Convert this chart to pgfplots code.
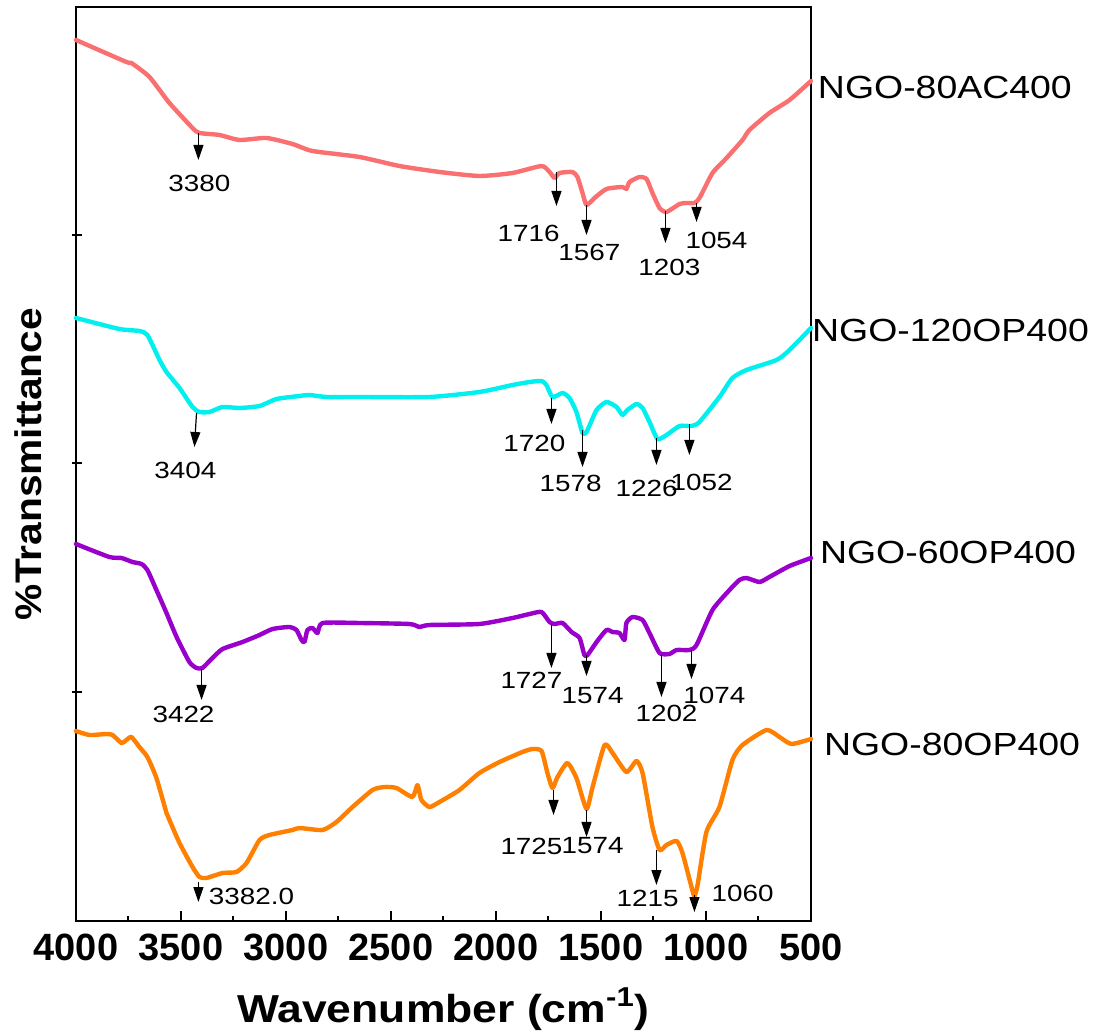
\documentclass[border=0pt]{standalone}
\usepackage{pgfplots}
\pgfplotsset{compat=1.18}
\usepackage{fontspec}
\setmainfont{Liberation Sans}
\usetikzlibrary{arrows.meta}
\definecolor{cRed}{RGB}{250,112,112}
\definecolor{cCyan}{RGB}{0,240,240}
\definecolor{cPurple}{RGB}{153,0,204}
\definecolor{cOrange}{RGB}{255,128,0}
\tikzset{
  pk/.style={black, line width=0.6pt, -{Triangle[length=7.5pt,width=5pt]}},
  ann/.style={font=\fontsize{11.7}{13}\selectfont, xscale=1.19, inner sep=0pt, anchor=center},
  nm/.style={font=\fontsize{16}{18}\selectfont, xscale=1.17, inner sep=0pt, anchor=west},
}
% arrow marking a peak: wavenumber, start value, end value
\newcommand{\pk}[3]{\draw[pk] (axis cs:#1,#2) -- (axis cs:#1,#3);}
\newcommand{\lb}[3]{\node[ann] at (axis cs:#1,#2) {#3};}
\newcommand{\nm}[3]{\node[nm] at (axis cs:#1,#2) {#3};}

\begin{document}
\begin{tikzpicture}
\useasboundingbox (-38pt,-55.5pt) rectangle (510pt,460.5pt);
\begin{axis}[
  at={(0,0)}, anchor=south west,
  scale only axis, width=367.5pt, height=457pt,
  xmin=500, xmax=4000, x dir=reverse,
  ymin=0, ymax=914,
  clip=false,
  axis line style={line width=1pt},
  every tick/.style={black, line width=1pt},
  tick align=inside,
  major tick length=5pt, minor tick length=2.5pt,
  xtick={500,1000,...,4000},
  xticklabels={500,1000,1500,2000,2500,3000,3500,4000},
  minor x tick num=1,
  xtick pos=bottom,
  ytick={229,458,686}, yticklabels={}, ytick pos=left,
  ytick style={xshift=-2pt},
  xticklabel style={font=\fontsize{19}{21}\selectfont\bfseries, anchor=base, yshift=-19.5pt, inner sep=0pt},
  every axis plot/.append style={line width=2.2pt, line join=round, line cap=round, smooth, tension=0.35},
]
% NGO-80AC400
\addplot[cRed] coordinates {
(4000,881) (3760,859) (3736,858) (3650,844) (3555,818) (3445,793) (3412,788)
(3317,786) (3221,781) (3093,783) (2969,777) (2874,770) (2650,764) (2460,755)
(2269,749) (2079,745) (1921,748) (1783,755) (1745,749) (1721,743) (1698,748)
(1636,749) (1612,744) (1588,728) (1569,716) (1531,723) (1474,732) (1398,734)
(1379,732) (1364,739) (1317,744) (1283,742) (1255,728) (1221,713) (1188,709)
(1126,717) (1093,718) (1055,718) (1031,723) (969,748) (902,763) (826,781)
(793,791) (698,808) (602,821) (500,840)};
% NGO-120OP400
\addplot[cCyan] coordinates {
(4000,603) (3793,592) (3698,590) (3660,586) (3602,561) (3569,549) (3507,533)
(3445,514) (3412,509) (3364,509) (3302,514) (3221,513) (3126,515) (3045,522)
(2936,525) (2888,526) (2807,524) (2650,524) (2317,524) (2079,529) (1921,536)
(1840,539) (1783,540) (1760,536) (1731,524) (1683,528) (1650,523) (1617,509)
(1588,488) (1569,489) (1521,511) (1474,519) (1426,514) (1398,506) (1374,511)
(1331,517) (1302,513) (1269,499) (1231,482) (1188,486) (1126,495) (1069,495)
(1031,499) (936,524) (874,543) (807,551) (664,561) (602,571) (500,593)};
% NGO-60OP400
\addplot[cPurple] coordinates {
(4000,377) (3841,364) (3783,363) (3731,359) (3688,357) (3660,351) (3617,331)
(3569,308) (3521,284) (3460,259) (3426,253) (3398,253) (3350,263) (3302,272)
(3207,279) (3126,286) (3064,292) (2983,294) (2950,291) (2926,281) (2912,279)
(2898,291) (2874,293) (2850,288) (2826,298) (2650,298) (2412,297) (2364,294)
(2317,296) (2079,297) (1921,303) (1840,307) (1783,309) (1745,299) (1721,297)
(1683,298) (1640,289) (1602,283) (1579,266) (1564,266) (1521,279) (1474,291)
(1445,289) (1412,288) (1388,281) (1379,298) (1350,304) (1302,301) (1269,288)
(1221,268) (1174,267) (1140,271) (1079,271) (1045,276) (969,311) (888,331)
(841,341) (807,343) (745,339) (698,344) (602,355) (500,363)};
% NGO-80OP400
\addplot[cOrange] coordinates {
(4000,190) (3936,186) (3855,187) (3826,186) (3783,178) (3760,181) (3736,184)
(3698,174) (3660,164) (3617,143) (3569,108) (3555,101) (3507,78) (3445,54)
(3412,44) (3379,43) (3302,48) (3236,49) (3188,58) (3126,81) (3079,86)
(2969,91) (2936,93) (2826,91) (2760,99) (2683,114) (2588,131) (2531,134)
(2474,133) (2398,124) (2374,136) (2355,121) (2317,114) (2269,119) (2174,131)
(2079,148) (1983,159) (1874,169) (1826,172) (1783,170) (1755,148) (1731,133)
(1707,144) (1660,158) (1617,143) (1569,112) (1540,134) (1483,176) (1445,168)
(1379,149) (1331,160) (1302,148) (1255,94) (1221,71) (1188,76) (1140,80)
(1112,68) (1064,30) (1055,25) (1040,36) (998,89) (936,114) (874,161)
(826,176) (712,191) (650,184) (593,177) (500,182)};

% peak arrows and labels
\pk{3417}{788}{761} \lb{3412}{738}{3380}
\pk{1712}{749}{715} \lb{1845}{688}{1716}
\pk{1569}{716}{686} \lb{1555}{669}{1567}
\pk{1193}{710}{678} \lb{1174}{654}{1203}
\pk{1045}{718}{699} \lb{950}{681}{1054}

\draw[pk] (axis cs:3426,508) -- (axis cs:3436,474); \lb{3479}{451}{3404}
\pk{1736}{523}{497} \lb{1817}{478}{1720}
\pk{1588}{491}{454} \lb{1645}{438}{1578}
\pk{1236}{483}{456} \lb{1283}{433}{1226}
\pk{1079}{497}{466} \lb{1021}{439}{1052}

\pk{3402}{252}{221} \lb{3488}{207}{3422}
\pk{1736}{296}{253} \lb{1831}{241}{1727}
\pk{1569}{266}{245} \lb{1540}{225}{1574}
\pk{1212}{266}{224} \lb{1188}{208}{1202}
\pk{1069}{271}{242} \lb{960}{226}{1074}

\pk{3417}{39}{19} \node[ann, anchor=west] at (axis cs:3369,25) {3382.0};
\pk{1726}{131}{106} \lb{1831}{75}{1725}
\pk{1569}{111}{84} \lb{1540}{75}{1574}
\pk{1236}{71}{36} \lb{1278}{23}{1215}
\pk{1055}{26}{9} \lb{826}{28}{1060}

% sample names
\nm{469}{834}{NGO-80AC400}
\nm{497}{591}{NGO-120OP400}
\nm{459}{369}{NGO-60OP400}
\nm{440}{177}{NGO-80OP400}

% axis titles
\node[rotate=90, anchor=base, font=\fontsize{18.5}{20}\selectfont\bfseries, xscale=1.1]
  at (axis description cs:-0.0463,0.5) {\%Transmittance};
\node[anchor=base, font=\fontsize{19.5}{21}\selectfont\bfseries, xscale=1.14]
  at (axis description cs:0.5,-0.1105) {Wavenumber (cm\textsuperscript{-1})};
\end{axis}
\end{tikzpicture}
\end{document}
